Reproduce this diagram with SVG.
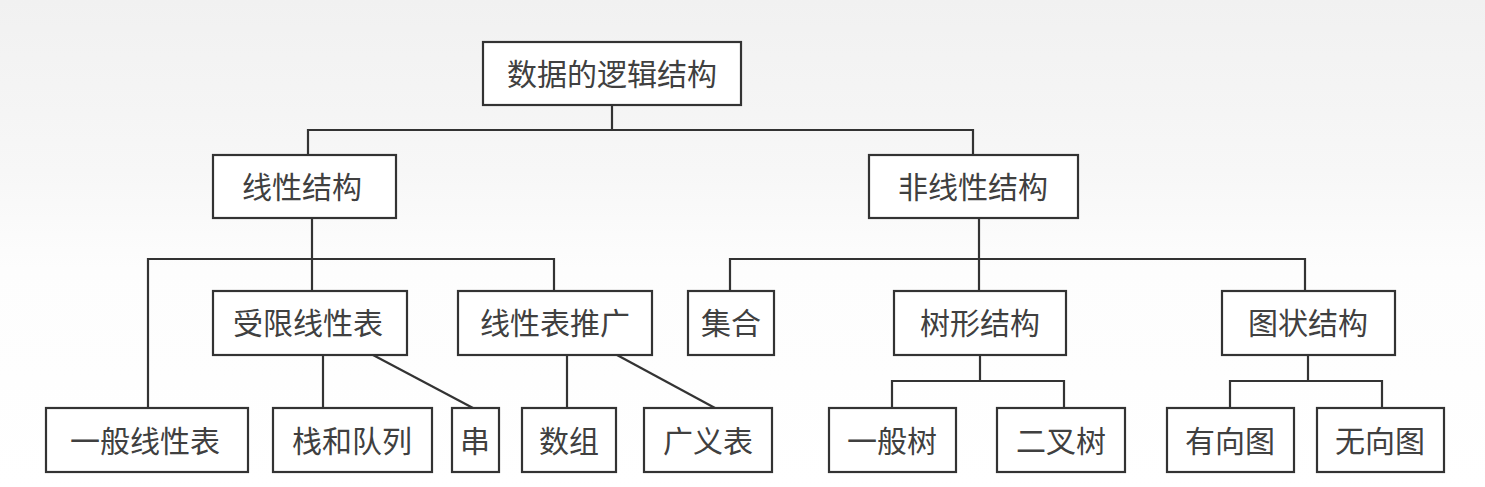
<svg xmlns="http://www.w3.org/2000/svg" width="1485" height="487" viewBox="0 0 1485 487">
<defs>
<linearGradient id="bg" x1="0" y1="0" x2="0" y2="1">
<stop offset="0" stop-color="#f1f1f1"/>
<stop offset="0.35" stop-color="#f7f7f7"/>
<stop offset="0.55" stop-color="#fdfdfd"/>
<stop offset="1" stop-color="#ffffff"/>
</linearGradient>
<style>
.box{fill:#ffffff;stroke:#333333;stroke-width:2.2}
.lbl{font-family:"Noto Sans CJK SC","Noto Sans CJK JP",sans-serif;font-size:30px;fill:#404040;text-anchor:middle;dominant-baseline:central}
.ln{fill:none;stroke:#333333;stroke-width:2.2}
</style>
</defs>
<rect x="0" y="0" width="1485" height="487" fill="url(#bg)"/>
<g id="connectors">
<polyline class="ln" points="612,105 612,130"/>
<polyline class="ln" points="308,155 308,130 973,130 973,155"/>
<polyline class="ln" points="312,219 312,291"/>
<polyline class="ln" points="148,408 148,259 554,259 554,291"/>
<polyline class="ln" points="979,218 979,291"/>
<polyline class="ln" points="730,291 730,259 1305,259 1305,291"/>
<polyline class="ln" points="323,355 323,408"/>
<line class="ln" x1="373" y1="355" x2="473" y2="408"/>
<polyline class="ln" points="567,355 567,408"/>
<line class="ln" x1="617" y1="355" x2="715" y2="408"/>
<polyline class="ln" points="980,355 980,381"/>
<polyline class="ln" points="892,408 892,381 1064,381 1064,408"/>
<polyline class="ln" points="1308,355 1308,381"/>
<polyline class="ln" points="1230,408 1230,381 1382,381 1382,408"/>
</g>
<g id="root"><rect class="box" x="483" y="42" width="258" height="63"/><text class="lbl" x="612" y="72">数据的逻辑结构</text></g>
<g id="linear"><rect class="box" x="213" y="155" width="183" height="63"/><text class="lbl" x="302" y="185">线性结构</text></g>
<g id="nonlinear"><rect class="box" x="869" y="155" width="209" height="63"/><text class="lbl" x="973" y="185">非线性结构</text></g>
<g id="restricted"><rect class="box" x="213" y="291" width="194" height="64"/><text class="lbl" x="308" y="321">受限线性表</text></g>
<g id="generalized"><rect class="box" x="458" y="291" width="194" height="64"/><text class="lbl" x="555" y="321">线性表推广</text></g>
<g id="set"><rect class="box" x="688" y="291" width="86" height="64"/><text class="lbl" x="731" y="321">集合</text></g>
<g id="tree"><rect class="box" x="894" y="291" width="172" height="64"/><text class="lbl" x="980" y="321">树形结构</text></g>
<g id="graph"><rect class="box" x="1222" y="291" width="173" height="64"/><text class="lbl" x="1308" y="321">图状结构</text></g>
<g id="generallist"><rect class="box" x="46" y="408" width="202" height="64"/><text class="lbl" x="145" y="439">一般线性表</text></g>
<g id="stackqueue"><rect class="box" x="273" y="408" width="159" height="64"/><text class="lbl" x="352" y="439">栈和队列</text></g>
<g id="string"><rect class="box" x="452" y="408" width="47" height="64"/><text class="lbl" x="475" y="439">串</text></g>
<g id="array"><rect class="box" x="522" y="408" width="94" height="64"/><text class="lbl" x="569" y="439">数组</text></g>
<g id="glist"><rect class="box" x="644" y="408" width="128" height="64"/><text class="lbl" x="708" y="439">广义表</text></g>
<g id="gtree"><rect class="box" x="829" y="408" width="127" height="64"/><text class="lbl" x="892" y="439">一般树</text></g>
<g id="btree"><rect class="box" x="997" y="408" width="128" height="64"/><text class="lbl" x="1061" y="439">二叉树</text></g>
<g id="digraph"><rect class="box" x="1167" y="408" width="127" height="64"/><text class="lbl" x="1230" y="439">有向图</text></g>
<g id="undigraph"><rect class="box" x="1317" y="408" width="127" height="64"/><text class="lbl" x="1380" y="439">无向图</text></g>
</svg>
